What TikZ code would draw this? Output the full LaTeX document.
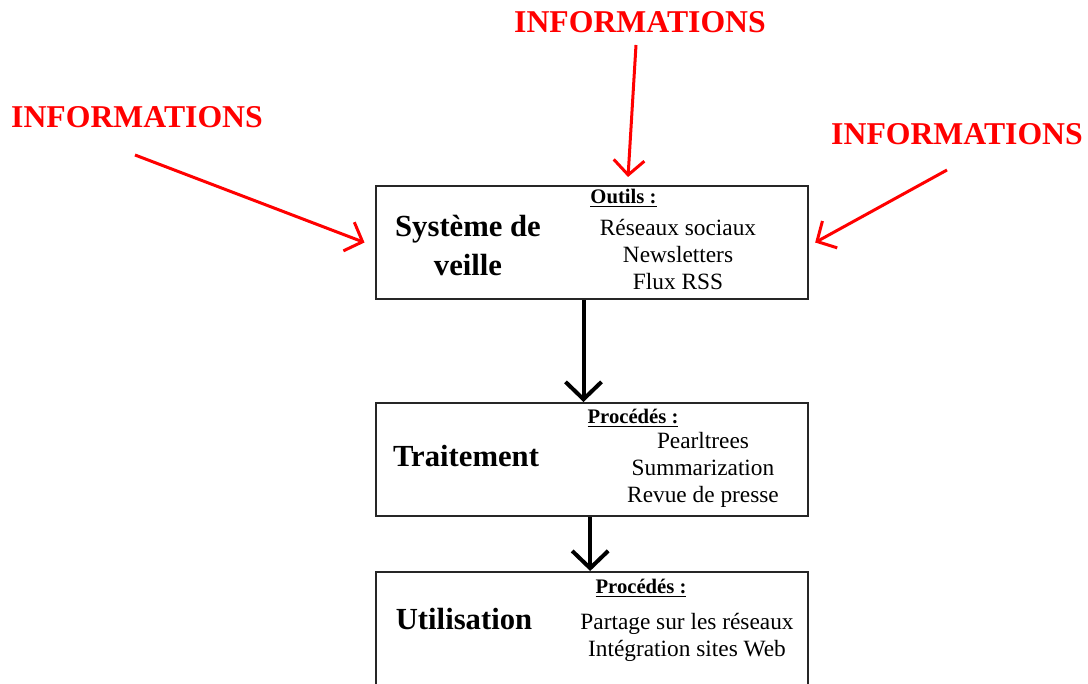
\documentclass[tikz,border=0pt]{standalone}
\usepackage{fontspec}
\setmainfont{Liberation Serif}
\usetikzlibrary{arrows.meta}
\usetikzlibrary{positioning}

\begin{document}
\begin{tikzpicture}
    [%
        x=0.75pt,y=-0.75pt,%
        stage box/.style={%
            draw=black!85,%
            line width=1.5pt,%
            rectangle,%
            minimum width=324pt,%
            minimum height=84.75pt%
        },%
        stage title/.style={%
            font=\fontsize{23}{29}\selectfont\bfseries,%
            align=center%
        },%
        tool head/.style={%
            font=\fontsize{15.5}{17}\selectfont\bfseries%
        },%
        tool list/.style={%
            font=\fontsize{17.5}{20}\selectfont,%
            align=center%
        },%
        source label/.style={%
            text=red,%
            font=\fontsize{23.8}{26}\selectfont\bfseries%
        },%
        flow/.style={%
            draw,%
            line width=3pt,%
            -{Straight Barb[length=13pt,width=27pt]}%
        },%
        feed/.style={%
            draw=red,%
            line width=2.25pt,%
            -{Straight Barb[length=11pt,width=23pt]}%
        }%
    ]%
%
    \clip (0,0) rectangle (1088,684);
%
    % the three stages
    \node[stage box] (veille) at (591.5,242.5) {};
    \node[stage box] (traitement) at (591.5,459.5) {};
    \node[stage box] (utilisation) at (591.5,628.5) {};
%
    \node[stage title] (veille-title) at (468,245.5) {Système de\\veille};
    \node[tool head] (veille-head) at (623.5,198) {\underline{Outils :}};
    \node[tool list] (veille-list) at (678,254.5) {Réseaux sociaux\\Newsletters\\Flux RSS};
%
    \node[stage title] (traitement-title) at (466,456) {Traitement};
    \node[tool head] (traitement-head) at (633,418) {\underline{Procédés :}};
    \node[tool list] (traitement-list) at (703,470) {Pearltrees\\Summarization\\Revue de presse};
%
    \node[stage title] (utilisation-title) at (464,619) {Utilisation};
    \node[tool head] (utilisation-head) at (641,588) {\underline{Procédés :}};
    \node[tool list] (utilisation-list) at (687,637.5) {Partage sur les réseaux\\Intégration sites Web};
%
    \draw[flow] ([xshift=-6pt]veille.south) -- ([xshift=-6pt]traitement.north);
    \draw[flow] ([xshift=-1pt]traitement.south) -- ([xshift=-1pt]utilisation.north);
%
    % incoming information
    \node[source label] (left-label) at (137,117) {INFORMATIONS};
    \node[source label] (top-label) at (640,22) {INFORMATIONS};
    \node[source label] (right-label) at (957,134) {INFORMATIONS};
    \coordinate (left-feed) at (135,155);
    \coordinate (top-feed) at (636,45);
    \coordinate (right-feed) at (947,170);
    \coordinate (left-in) at ([xshift=-7.5pt]veille.west);
    \coordinate (top-in) at ([xshift=27.4pt,yshift=6pt]veille.north);
    \coordinate (right-in) at ([xshift=5pt]veille.east);
    \foreach \side in {left,top,right}
        \draw[feed] (\side-feed) -- (\side-in);
\end{tikzpicture}
\end{document}
